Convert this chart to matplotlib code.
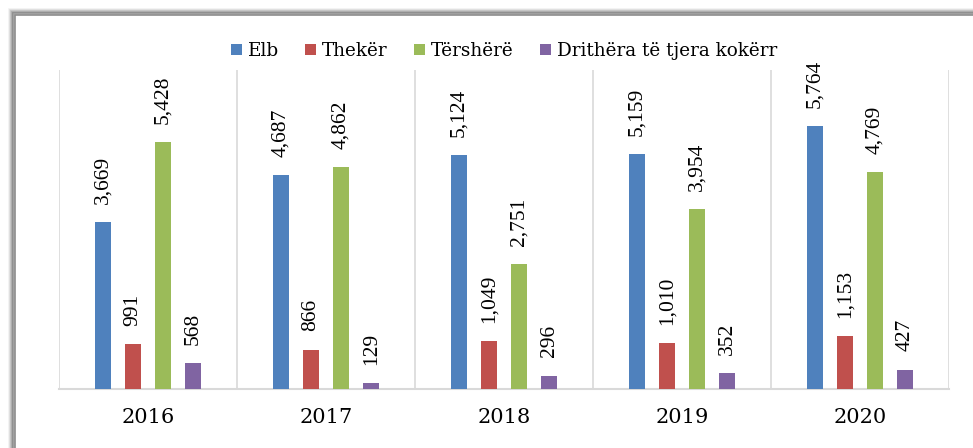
import matplotlib.pyplot as plt
import numpy as np
from matplotlib.patches import Rectangle

years = ['2016', '2017', '2018', '2019', '2020']
series = ['Elb', 'Thekër', 'Tërshërë', 'Drithëra të tjera kokërr']
elb = [3669, 4687, 5124, 5159, 5764]
theker = [991, 866, 1049, 1010, 1153]
tershere = [5428, 4862, 2751, 3954, 4769]
drithera = [568, 129, 296, 352, 427]
colors = ['#4F81BD', '#C0504D', '#9BBB59', '#8064A2']

values = [elb, theker, tershere, drithera]

fig = plt.figure(figsize=(9.73, 4.48), dpi=100)
W, H = 973.0, 448.0

# frame with shadow (like an exported office chart)
for i, a in enumerate([0.05, 0.08, 0.12, 0.18, 0.25]):
    off = 5 - i
    fig.patches.append(Rectangle(((14 - off) / W, -0.1), 1.2, (448 - 14 + off) / H + 0.1,
                                 transform=fig.transFigure, facecolor='none',
                                 edgecolor='#000000', alpha=a, linewidth=2, zorder=-10))
fig.patches.append(Rectangle((15 / W, -0.1), 1.2, (448 - 15) / H + 0.1,
                             transform=fig.transFigure, facecolor='white',
                             edgecolor='#8c8c8c', linewidth=1.2, zorder=-9))

ax = fig.add_axes([59 / W, 1 - 389 / H, 890 / W, 319 / H])
ax.set_facecolor('none')

x = np.arange(len(years))
width = 0.09
step = 0.17
offsets = (np.arange(len(series)) - 1.5) * step

for k in range(len(series)):
    bars = ax.bar(x + offsets[k], values[k], width, color=colors[k], label=series[k], zorder=3)
    for b, v in zip(bars, values[k]):
        ax.annotate(f'{v:,}', (b.get_x() + b.get_width() / 2, b.get_height()),
                    xytext=(0, 13), textcoords='offset points', rotation=90,
                    ha='center', va='bottom', fontsize=15.5, family='Liberation Serif')

ax.set_xlim(-0.5, len(years) - 0.5)
ax.set_ylim(0, 7000)
ax.set_yticks([])
ax.set_xticks(x)
ax.set_xticklabels(years, fontsize=15, family='DejaVu Serif')
ax.set_xticks(np.arange(len(years) + 1) - 0.5, minor=True)
ax.tick_params(axis='x', which='both', length=0, pad=14)
ax.grid(axis='x', which='minor', color='#d9d9d9', linewidth=1.2, zorder=0)
for s in ['top', 'right', 'left']:
    ax.spines[s].set_visible(False)
ax.spines['bottom'].set_color('#d9d9d9')
ax.spines['bottom'].set_linewidth(1.5)

ax.legend(loc='lower center', bbox_to_anchor=(0.5, 1.0), ncol=4, frameon=False,
          prop={'family': 'DejaVu Serif', 'size': 13.2}, handlelength=0.6, handleheight=0.6,
          handletextpad=0.3, columnspacing=1.45, borderaxespad=0.15)

fig.savefig('out.png', dpi=100)
